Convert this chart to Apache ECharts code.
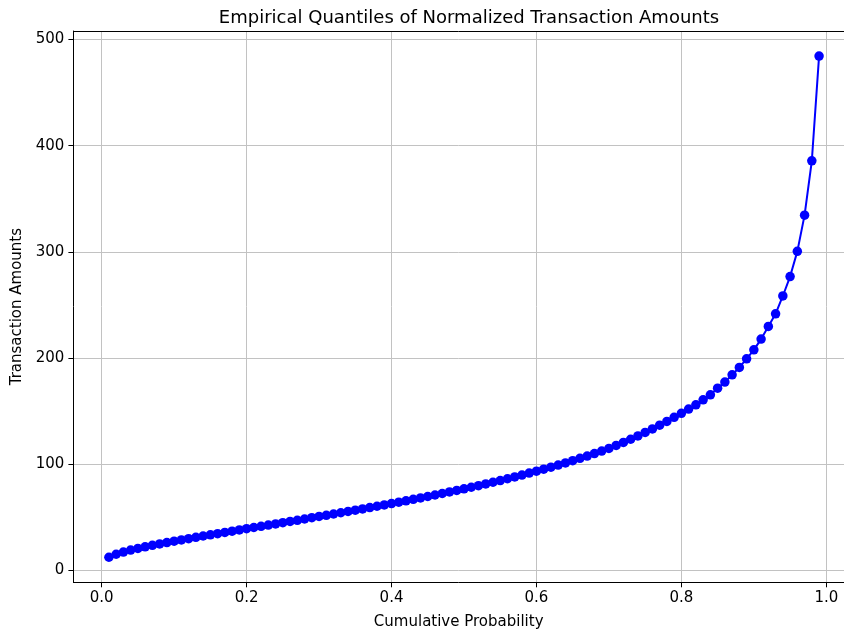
<!DOCTYPE html>
<html>
<head>
<meta charset="utf-8">
<title>Empirical Quantiles of Normalized Transaction Amounts</title>
<script src="https://cdn.jsdelivr.net/npm/echarts@6/dist/echarts.min.js"></script>
<style>
  html, body { margin: 0; padding: 0; background: #ffffff; }
  #chart { width: 844px; height: 632px; }
</style>
</head>
<body>
<div id="chart"></div>
<script>
// Cumulative probability levels (x)
const probabilities = [
  0.01, 0.02, 0.03, 0.04, 0.05, 0.06, 0.07, 0.08, 0.09, 0.10,
  0.11, 0.12, 0.13, 0.14, 0.15, 0.16, 0.17, 0.18, 0.19, 0.20,
  0.21, 0.22, 0.23, 0.24, 0.25, 0.26, 0.27, 0.28, 0.29, 0.30,
  0.31, 0.32, 0.33, 0.34, 0.35, 0.36, 0.37, 0.38, 0.39, 0.40,
  0.41, 0.42, 0.43, 0.44, 0.45, 0.46, 0.47, 0.48, 0.49, 0.50,
  0.51, 0.52, 0.53, 0.54, 0.55, 0.56, 0.57, 0.58, 0.59, 0.60,
  0.61, 0.62, 0.63, 0.64, 0.65, 0.66, 0.67, 0.68, 0.69, 0.70,
  0.71, 0.72, 0.73, 0.74, 0.75, 0.76, 0.77, 0.78, 0.79, 0.80,
  0.81, 0.82, 0.83, 0.84, 0.85, 0.86, 0.87, 0.88, 0.89, 0.90,
  0.91, 0.92, 0.93, 0.94, 0.95, 0.96, 0.97, 0.98, 0.99
];

// Quantile of transaction amount at each probability level (y)
const quantiles = [
  12.5, 15.3, 17.4, 19.2, 20.8, 22.3, 23.7, 25.0, 26.3, 27.6,
  28.8, 30.0, 31.3, 32.5, 33.6, 34.7, 35.9, 37.0, 38.2, 39.4,
  40.5, 41.6, 42.8, 43.9, 45.0, 46.2, 47.3, 48.5, 49.7, 50.9,
  52.0, 53.2, 54.4, 55.6, 56.8, 58.0, 59.3, 60.5, 61.8, 63.0,
  64.3, 65.6, 67.0, 68.3, 69.7, 71.1, 72.5, 74.0, 75.4, 76.9,
  78.4, 79.9, 81.5, 83.1, 84.7, 86.4, 88.1, 89.9, 91.7, 93.5,
  95.4, 97.3, 99.3, 101.3, 103.4, 105.6, 107.8, 110.1, 112.5, 115.0,
  117.8, 120.6, 123.6, 126.7, 130.0, 133.3, 136.8, 140.4, 144.2, 148.0,
  152.0, 156.0, 160.7, 165.4, 171.7, 177.4, 184.3, 191.2, 199.3, 207.8,
  217.9, 229.8, 241.7, 258.5, 276.8, 300.5, 334.6, 385.8, 484.4
];

// Tick positions
const xTicks = [0.0, 0.2, 0.4, 0.6, 0.8, 1.0];
const yTicks = [0, 100, 200, 300, 400, 500];

const FONT = '"DejaVu Sans", sans-serif';
const SPINE = { color: '#000000', width: 1 };
const GRIDLINE = { color: '#c2c2c2', width: 1 };

// Visible x range: the plot area is cut at the right edge of the canvas.
const X_MIN = -0.039;
const X_MAX = 1.0244;

const points = probabilities.map((p, i) => [p, quantiles[i]]);

const chart = echarts.init(document.getElementById('chart'), null, { renderer: 'canvas' });

chart.setOption({
  animation: false,
  backgroundColor: '#ffffff',
  title: {
    text: 'Empirical Quantiles of Normalized Transaction Amounts',
    left: 464,
    textAlign: 'center',
    top: 4,
    textStyle: { fontFamily: FONT, fontSize: 18, fontWeight: 'normal', color: '#000000' }
  },
  grid: {
    left: 73.4,
    top: 31,
    right: 0,
    bottom: 49.7,
    containLabel: false,
    outerBoundsMode: 'none'
  },
  xAxis: [{
    type: 'value',
    min: X_MIN,
    max: X_MAX,
    name: 'Cumulative Probability',
    nameLocation: 'middle',
    nameGap: 32,
    nameTextStyle: { fontFamily: FONT, fontSize: 15, color: '#000000' },
    axisLine: { show: true, onZero: false, lineStyle: SPINE },
    axisTick: { show: true, inside: false, length: 5, customValues: xTicks, lineStyle: SPINE },
    axisLabel: {
      customValues: xTicks,
      margin: 8,
      fontFamily: FONT,
      fontSize: 15,
      color: '#000000',
      formatter: v => v.toFixed(1)
    },
    splitLine: { show: true, lineStyle: GRIDLINE }
  }, {
    // top spine
    type: 'value',
    position: 'top',
    min: X_MIN,
    max: X_MAX,
    axisLine: { show: true, onZero: false, lineStyle: SPINE },
    axisTick: { show: false },
    axisLabel: { show: false },
    splitLine: { show: false }
  }],
  yAxis: {
    type: 'value',
    min: -11.1,
    max: 508,
    name: 'Transaction Amounts',
    nameLocation: 'middle',
    nameGap: 47,
    nameTextStyle: { fontFamily: FONT, fontSize: 15, color: '#000000' },
    axisLine: { show: true, onZero: false, lineStyle: SPINE },
    axisTick: { show: true, inside: false, length: 5, customValues: yTicks, lineStyle: SPINE },
    axisLabel: {
      customValues: yTicks,
      margin: 9,
      fontFamily: FONT,
      fontSize: 15,
      color: '#000000',
      formatter: v => String(Math.round(v))
    },
    splitLine: { show: true, lineStyle: GRIDLINE }
  },
  series: [{
    type: 'line',
    xAxisIndex: 0,
    data: points,
    symbol: 'circle',
    symbolSize: 9.5,
    showSymbol: true,
    showAllSymbol: true,
    lineStyle: { color: '#0000ff', width: 2 },
    itemStyle: { color: '#0000ff', borderWidth: 0 },
    emphasis: { disabled: true },
    clip: false
  }]
});
</script>
</body>
</html>
